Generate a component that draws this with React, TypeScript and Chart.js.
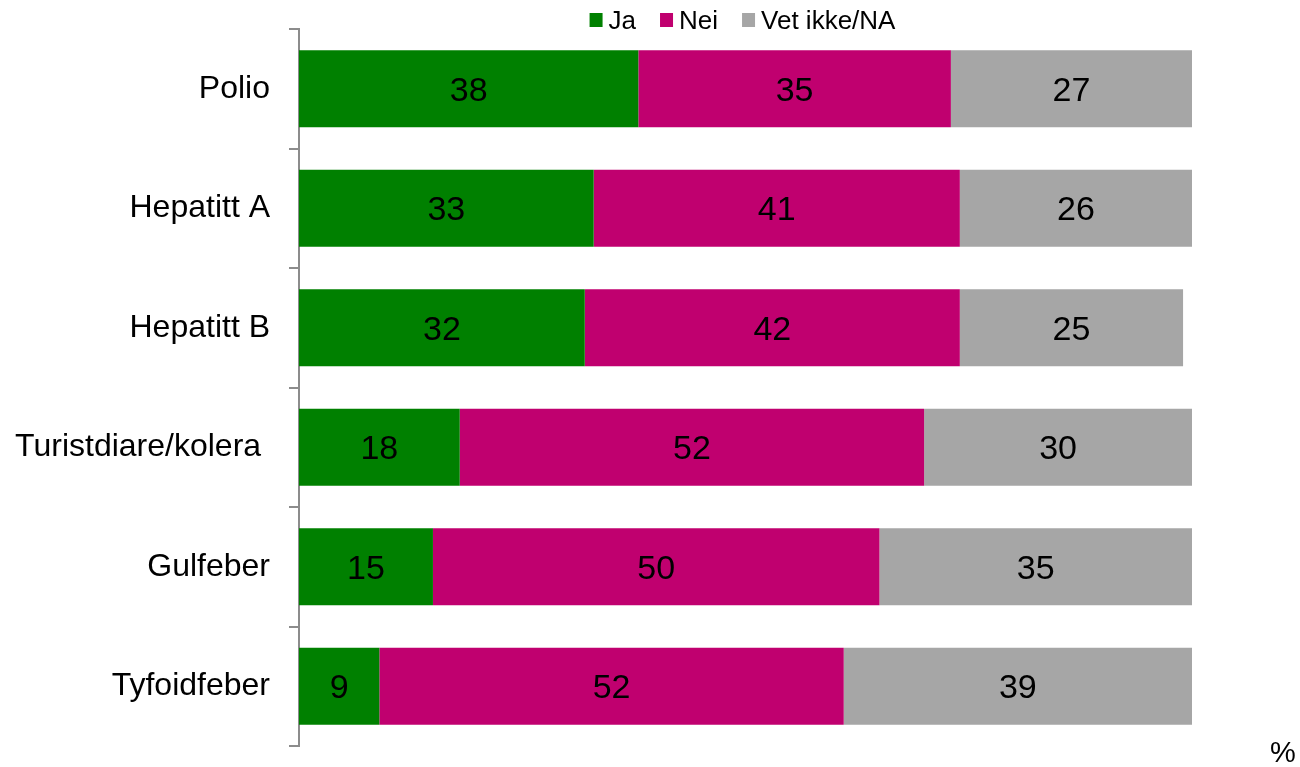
import React, { useEffect, useRef } from "react";
import { Chart, registerables } from "chart.js";

Chart.register(...registerables);

const categories = ["Polio", "Hepatitt A", "Hepatitt B", "Turistdiare/kolera ", "Gulfeber", "Tyfoidfeber"];
const jaValues = [38, 33, 32, 18, 15, 9];
const neiValues = [35, 41, 42, 52, 50, 52];
const vetIkkeValues = [27, 26, 25, 30, 35, 39];
const seriesLabels = ["Ja", "Nei", "Vet ikke/NA"];
const seriesColors = ["#008000", "#C0006F", "#A6A6A6"];
const unitLabel = "%";

const FONT = '"Liberation Sans", Arial, Helvetica, sans-serif';

const dataLabelPlugin = {
  id: "dataLabelPlugin",
  afterDatasetsDraw(chart: any) {
    const ctx = chart.ctx;
    ctx.save();
    ctx.font = `34px ${FONT}`;
    ctx.fillStyle = "#000";
    ctx.textAlign = "center";
    ctx.textBaseline = "alphabetic";
    chart.data.datasets.forEach((ds: any, i: number) => {
      const meta = chart.getDatasetMeta(i);
      meta.data.forEach((bar: any, j: number) => {
        const p = bar.getCenterPoint();
        ctx.fillText(String(ds.data[j]), p.x, p.y + 12);
      });
    });
    ctx.restore();
  },
};

const customLegendPlugin = {
  id: "customLegendPlugin",
  afterDraw(chart: any) {
    const ctx = chart.ctx;
    const area = chart.chartArea;
    ctx.save();
    ctx.font = `26px ${FONT}`;
    const box = 13;
    const gapText = 6;
    const gapItem = 24;
    const items = chart.data.datasets.map((ds: any) => ({
      label: ds.label,
      color: ds.backgroundColor,
      w: ctx.measureText(ds.label).width,
    }));
    let total = 0;
    items.forEach((it: any, k: number) => {
      total += box + gapText + it.w + (k < items.length - 1 ? gapItem : 0);
    });
    const center = (area.left + area.right) / 2 - 3;
    let x = center - total / 2;
    items.forEach((it: any) => {
      ctx.fillStyle = it.color;
      ctx.fillRect(x, 13, box, box + 1);
      ctx.fillStyle = "#000";
      ctx.textAlign = "left";
      ctx.textBaseline = "alphabetic";
      ctx.fillText(it.label, x + box + gapText, 28.5);
      x += box + gapText + it.w + gapItem;
    });
    ctx.restore();
  },
};

const unitPlugin = {
  id: "unitPlugin",
  afterDraw(chart: any) {
    const ctx = chart.ctx;
    ctx.save();
    ctx.font = `29px ${FONT}`;
    ctx.fillStyle = "#000";
    ctx.textAlign = "center";
    ctx.textBaseline = "alphabetic";
    ctx.fillText(unitLabel, 1283, 762);
    ctx.restore();
  },
};

export default function App() {
  const canvasRef = useRef<HTMLCanvasElement | null>(null);

  useEffect(() => {
    document.body.style.margin = "0";
    const canvas = canvasRef.current;
    if (!canvas) return;
    const valueSets = [jaValues, neiValues, vetIkkeValues];
    const chart = new Chart(canvas, {
      type: "bar",
      data: {
        labels: categories,
        datasets: valueSets.map((vals, i) => ({
          label: seriesLabels[i],
          data: vals,
          backgroundColor: seriesColors[i],
          borderWidth: 0,
          categoryPercentage: 1,
          barPercentage: 0.645,
        })),
      },
      options: {
        indexAxis: "y",
        responsive: true,
        maintainAspectRatio: false,
        animation: false,
        layout: { padding: { top: 29, bottom: 21, right: 108, left: 0 } },
        plugins: {
          legend: { display: false },
          tooltip: { enabled: false },
          title: { display: false },
        },
        scales: {
          x: {
            stacked: true,
            min: 0,
            max: 100,
            display: false,
          },
          y: {
            stacked: true,
            afterFit(scale: any) {
              scale.width = 299;
              scale.paddingTop = 0;
              scale.paddingBottom = 0;
            },
            border: { display: true, color: "#8C8C8C", width: 2 },
            grid: {
              offset: true,
              drawOnChartArea: false,
              drawTicks: true,
              tickLength: 10,
              color: "#8C8C8C",
              lineWidth: 2,
            },
            ticks: {
              color: "#000",
              padding: 19,
              font: { family: FONT, size: 32 },
            },
          },
        },
      } as any,
      plugins: [dataLabelPlugin, customLegendPlugin, unitPlugin],
    });
    return () => chart.destroy();
  }, []);

  return (
    <div style={{ width: 1300, height: 767, position: "relative" }}>
      <canvas ref={canvasRef} />
    </div>
  );
}
